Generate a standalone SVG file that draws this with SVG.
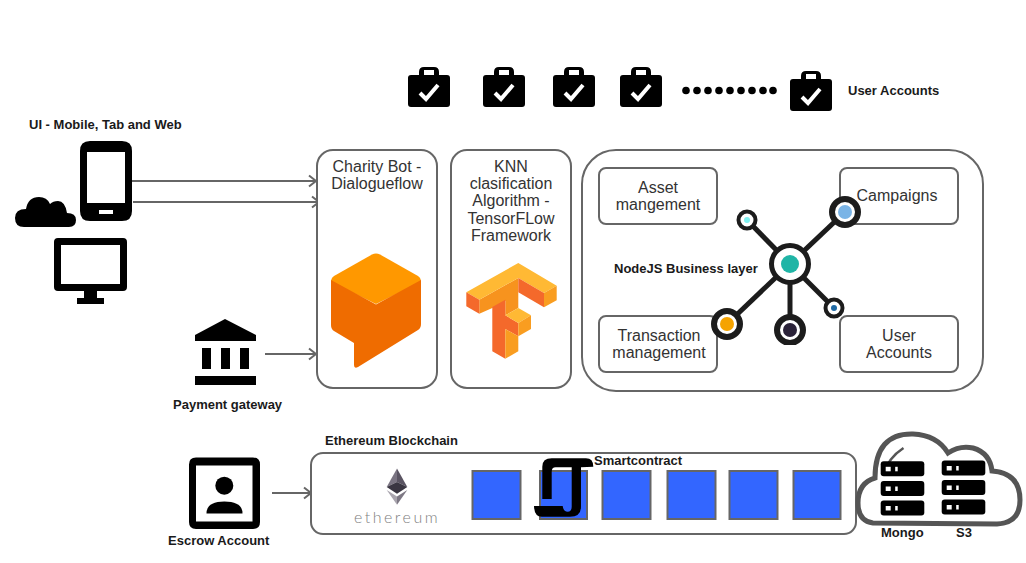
<svg xmlns="http://www.w3.org/2000/svg" xmlns:xlink="http://www.w3.org/1999/xlink" width="1026" height="563" viewBox="0 0 1026 563">
<style>
text{font-family:"Liberation Sans",Arial,sans-serif}
.b{font-size:13px;font-weight:bold;fill:#1a1a1a}
.t{font-size:16px;fill:#333;text-anchor:middle}
.box{fill:#fff;stroke:#666;stroke-width:2}
.conn{fill:none;stroke:#666;stroke-width:2;marker-end:url(#arr)}
.sq{fill:#3366ff;stroke:#666;stroke-width:2}
.ring{fill:#fff;stroke:#1c1c1c}
.net{stroke:#1c1c1c;stroke-width:5}
.srv{fill:#000}
.srvw{fill:#fff}
</style>
<defs>
<marker id="arr" markerUnits="userSpaceOnUse" markerWidth="12" markerHeight="16" refX="9" refY="7" orient="auto" overflow="visible">
<path d="M2,1.5 L9,7 L2,12.5" fill="none" stroke="#666" stroke-width="2"/>
</marker>
<clipPath id="netclip"><rect x="700" y="190" width="180" height="155"/></clipPath>
<g id="case">
<path fill="#000" d="M11,8 L11,5 Q11,0 16,0 L26,0 Q31,0 31,5 L31,8 L39,8 Q42,8 42,11 L42,37 Q42,40 39,40 L3,40 Q0,40 0,37 L0,11 Q0,8 3,8 Z M16,3 L16,8 L26,8 L26,3 Z"/>
<path fill="none" stroke="#fff" stroke-width="4" d="M12,26 L18,32 L30,18"/>
</g>
<g id="srvu">
<rect class="srv" width="43.6" height="15" rx="3"/>
<rect class="srvw" x="5" y="5.5" width="5" height="4.500"/>
<rect class="srvw" x="14.5" y="5.5" width="2.5" height="4.500"/>
</g>
</defs>
<rect width="1026" height="563" fill="#fff"/>

<g id="connectors">
<line class="conn" x1="130" y1="181" x2="316" y2="181"/>
<line class="conn" x1="133" y1="202" x2="319" y2="202"/>
<line class="conn" x1="265" y1="354" x2="316" y2="354"/>
<line class="conn" x1="272" y1="493" x2="311" y2="493"/>
</g>

<g id="user-accounts-top">
<use href="#case" x="408" y="67"/>
<use href="#case" x="483" y="67"/>
<use href="#case" x="553" y="67"/>
<use href="#case" x="620" y="67"/>
<g fill="#000">
<circle cx="686" cy="90.500" r="3.800"/><circle cx="697" cy="90.500" r="3.800"/><circle cx="708" cy="90.500" r="3.800"/><circle cx="719" cy="90.500" r="3.800"/><circle cx="730" cy="90.500" r="3.800"/><circle cx="741" cy="90.500" r="3.800"/><circle cx="752" cy="90.500" r="3.800"/><circle cx="763" cy="90.500" r="3.800"/><circle cx="773" cy="90.500" r="3.800"/>
</g>
<use href="#case" x="790" y="71"/>
<text class="b" x="848" y="94.500">User Accounts</text>
</g>

<g id="ui-clients">
<text class="b" x="29" y="128.500">UI - Mobile, Tab and Web</text>
<path fill="#000" fill-rule="evenodd" d="M90,141 L122,141 Q132,141 132,151 L132,211 Q132,221 122,221 L90,221 Q80,221 80,211 L80,151 Q80,141 90,141 Z M87,152 L87,203 L125,203 L125,152 Z M99,210 L99,214 L113,214 L113,210 Z"/>
<path fill="#000" d="M24,227 Q15,227 15,218 Q15,209 26,209 Q28,197 39,197 Q47,197 50,204 Q53,201 58,201 Q65,201 67,213 Q76,213 76,220 Q76,227 69,227 Z"/>
<path fill="#000" fill-rule="evenodd" d="M58,238 L123,238 Q127,238 127,242 L127,287 Q127,291 123,291 L97,291 L97,298 L104,298 L104,304 L77,304 L77,298 L84,298 L84,291 L58,291 Q54,291 54,287 L54,242 Q54,238 58,238 Z M61,245 L61,284 L120,284 L120,245 Z"/>
</g>

<g id="payment-gateway">
<path fill="#000" d="M225,319 L256,335 L256,341 L195,341 L195,335 Z"/>
<rect x="202" y="348" width="9" height="21"/><rect x="221" y="348" width="9" height="21"/><rect x="240" y="348" width="9" height="21"/>
<rect x="195" y="376" width="61" height="9"/>
<text class="b" x="173" y="408.500">Payment gateway</text>
</g>

<g id="charity-bot">
<rect class="box" x="317" y="150" width="120" height="238" rx="16"/>
<text class="t" x="377" y="172">Charity Bot -</text>
<text class="t" x="377" y="189">Dialogueflow</text>
<path fill="#ff9800" d="M372,254.500 Q376,252.500 380,254.500 L418,276 Q421,278 421,282 L376,304 L331,282 Q331,278 334,276 Z"/>
<path fill="#ef6c00" d="M331,280 L376,304.500 L421,280 L421,324 Q421,328 418,330 L358,367 Q354,369 354,365 L354,343 L334,331 Q331,329 331,325 Z"/>
</g>

<g id="knn">
<rect class="box" x="451" y="150" width="120" height="238" rx="16"/>
<text class="t" x="511" y="172">KNN</text>
<text class="t" x="511" y="189">clasification</text>
<text class="t" x="511" y="206">Algorithm -</text>
<text class="t" x="511" y="224">TensorFLow</text>
<text class="t" x="511" y="241">Framework</text>
<polygon fill="#f7931e" points="479.300,299.700 518.300,278 518.300,308 505.300,315.300 505.300,300.700 492.300,308 479.300,313.700"/>
<polygon fill="#ffb934" points="518.300,263 556.700,285.700 544,293 518.300,278 479.300,299.700 466.300,292.300"/>
<polygon fill="#f4692b" points="518.300,278 544,293 544,307.300 518.300,292.300"/>
<polygon fill="#f99d20" points="544,293 556.700,285.700 556.700,300.300 544,307.300"/>
<polygon fill="#f4692b" points="466.300,292.300 479.300,299.700 479.300,313.700 466.300,306.300"/>
<polygon fill="#f4692b" points="492.300,307 505.300,299.700 505.300,315.300 518.300,323 518.300,336.300 505.300,329 505.300,358.700 492.300,351.300"/>
<polygon fill="#ffb934" points="505.300,315.300 518.300,308 531,315.300 518.300,323"/>
<polygon fill="#f99d20" points="518.300,323 531,315.300 531,329 518.300,336.300"/>
<polygon fill="#f99d20" points="505.300,329 518.300,336.300 518.300,351.300 505.300,358.700"/>
</g>

<g id="nodejs-layer">
<rect class="box" x="582" y="150" width="401" height="241" rx="34"/>
<rect class="box" x="599" y="168" width="118" height="56" rx="7"/>
<rect class="box" x="840" y="168" width="118" height="56" rx="7"/>
<rect class="box" x="599" y="316" width="118" height="56" rx="7"/>
<rect class="box" x="840" y="316" width="118" height="56" rx="7"/>
<g id="network-icon" clip-path="url(#netclip)">
<line class="net" x1="790" y1="264" x2="747" y2="220"/>
<line class="net" x1="790" y1="264" x2="845" y2="212"/>
<line class="net" x1="790" y1="264" x2="727" y2="324"/>
<line class="net" x1="790" y1="264" x2="790" y2="330"/>
<line class="net" x1="790" y1="264" x2="834" y2="308"/>
<circle class="ring" cx="790" cy="264" r="18.500" stroke-width="5"/><circle cx="790" cy="264" r="9" fill="#20b5a6"/>
<circle class="ring" cx="747" cy="220" r="8.500" stroke-width="4"/><circle cx="747" cy="220" r="3" fill="#7ff0f0"/>
<circle class="ring" cx="845" cy="212" r="13" stroke-width="6"/><circle cx="845" cy="212" r="7" fill="#7ab4e6"/>
<circle class="ring" cx="727" cy="324" r="13" stroke-width="6"/><circle cx="727" cy="324" r="7" fill="#f5a300"/>
<circle class="ring" cx="790" cy="330" r="13" stroke-width="6"/><circle cx="790" cy="330" r="7" fill="#2a2238"/>
<circle class="ring" cx="834" cy="308" r="8.500" stroke-width="4"/><circle cx="834" cy="308" r="3" fill="#1f6aa5"/>
</g>
<text class="t" x="658" y="193">Asset</text>
<text class="t" x="658" y="210">mangement</text>
<text class="t" x="897" y="201">Campaigns</text>
<text class="t" x="659" y="341">Transaction</text>
<text class="t" x="659" y="358">management</text>
<text class="t" x="899" y="341">User</text>
<text class="t" x="899" y="358">Accounts</text>
<text class="b" x="614" y="272.500">NodeJS Business layer</text>
</g>

<g id="escrow">
<path fill="#000" fill-rule="evenodd" d="M196,457.500 L253,457.500 Q260,457.500 260,464.500 L260,522 Q260,529 253,529 L196,529 Q189,529 189,522 L189,464.500 Q189,457.500 196,457.500 Z M196,465.500 L196,521.500 L252.500,521.500 L252.500,465.500 Z"/>
<circle cx="224.300" cy="485.700" r="9"/>
<path fill="#000" d="M206.500,513.500 Q206.500,501.500 224.300,501.500 Q242.500,501.500 242.500,513.500 Z"/>
<text class="b" x="168" y="544.500">Escrow Account</text>
</g>

<g id="ethereum-blockchain">
<text class="b" x="325" y="444.500">Ethereum Blockchain</text>
<rect class="box" x="311" y="453" width="545" height="81" rx="12"/>
<polygon fill="#7a7482" points="397,468.500 386.700,487 397,482"/>
<polygon fill="#5a5462" points="397,468.500 407.300,487 397,482"/>
<polygon fill="#3a3642" points="386.700,487 397,482 407.300,487 397,493.700"/>
<polygon fill="#a9a5ae" points="386.700,490 397,496.500 397,504.700"/>
<polygon fill="#7d7884" points="407.300,490 397,496.500 397,504.700"/>
<text x="397" y="523" text-anchor="middle" font-size="16" font-weight="300" letter-spacing="2.500" fill="#808080" style="font-family:Lato,'Liberation Sans',sans-serif">ethereum</text>
<rect class="sq" x="472.500" y="471" width="48" height="48"/>
<rect class="sq" x="540" y="471" width="47" height="48"/>
<rect class="sq" x="602.500" y="471" width="48" height="48"/>
<rect class="sq" x="667.500" y="471" width="48" height="48"/>
<rect class="sq" x="729.500" y="471" width="48" height="48"/>
<rect class="sq" x="793.500" y="471" width="47" height="48"/>
<path fill="#000" d="M542.300,499 L542.300,466.700 Q542.300,458.300 551.700,458.300 L586,458.300 Q593.300,458.300 593.300,466.700 L581,467.300 L581,506.700 Q581,516.700 570,516.700 L541.700,516.700 Q534.300,516.700 534,506 L562.700,506 Q563.300,511.700 567.700,511.700 Q571.700,511.700 571.700,506.700 L571.700,467.300 L555.700,467.300 Q551.700,467.300 551.700,471.700 L551.700,499 Z"/>
<text class="b" x="594" y="464.500">Smartcontract</text>
</g>

<g id="storage-cloud">
<path fill="none" stroke="#555" stroke-width="5" d="M873,523 Q858,521 858,503 Q858,483 875,478 Q875,433 913,434 Q937,435 948,453 Q960,445 973,448 Q990,453 992,471 Q1020,473 1020,500 Q1020,523 997,524 Z"/>
<path fill="none" stroke="#555" stroke-width="2.500" d="M903.500,448 Q888,458 883,475"/>
<use href="#srvu" x="880.700" y="461.300"/>
<use href="#srvu" x="880.700" y="481"/>
<use href="#srvu" x="880.700" y="500.500"/>
<use href="#srvu" x="941.700" y="460.500"/>
<use href="#srvu" x="941.700" y="480"/>
<use href="#srvu" x="941.700" y="499.500"/>
<text class="b" x="881" y="536.500">Mongo</text>
<text class="b" x="956" y="536.500">S3</text>
</g>
</svg>
